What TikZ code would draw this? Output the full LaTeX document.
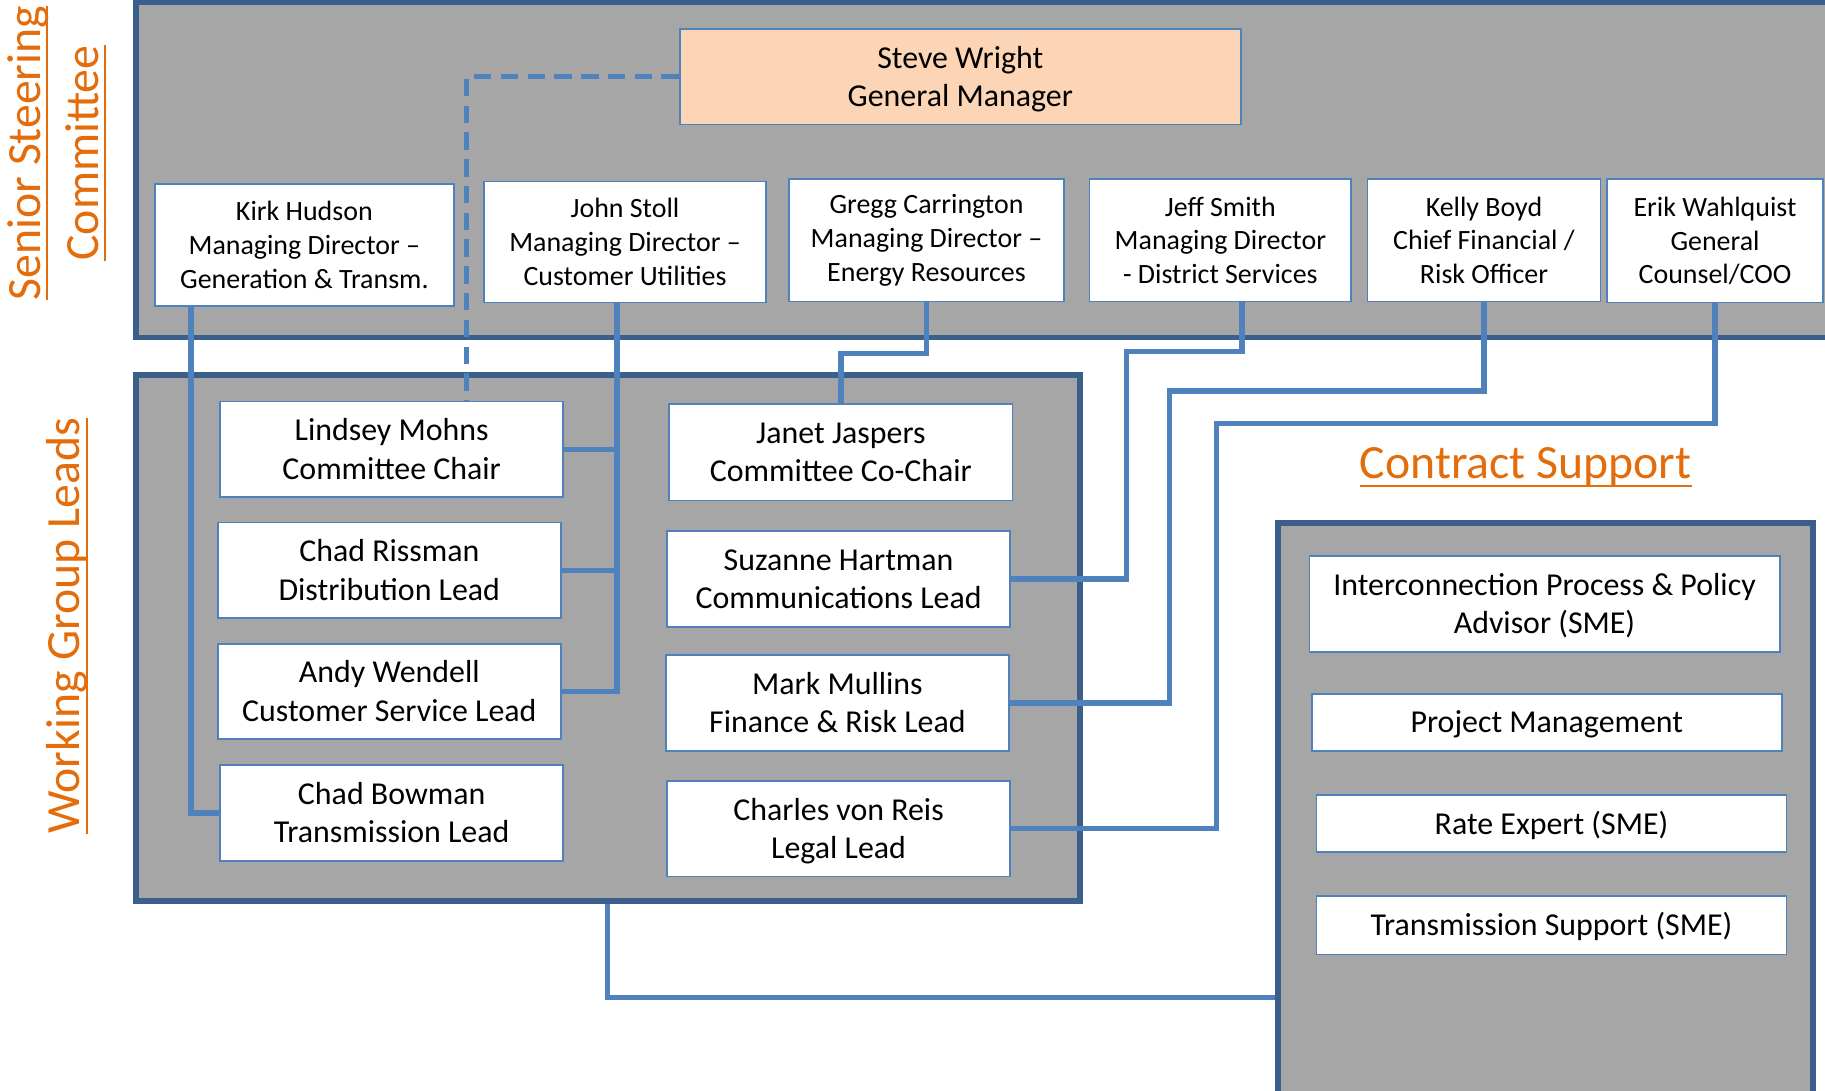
\documentclass[tikz,border=0pt]{standalone}
\usepackage{fontspec}
\setmainfont{Carlito}
\definecolor{grpfill}{HTML}{A6A6A6}
\definecolor{grpedge}{HTML}{3A5F8B}
\definecolor{conn}{HTML}{4F81BD}
\definecolor{orng}{HTML}{E46C0A}
\definecolor{peach}{HTML}{FBD5B5}
\newcommand{\btext}[1]{\raisebox{-2.5pt}[\height][\depth]{\begin{tabular}{@{}c@{}}#1\end{tabular}}}
\tikzset{
  grp/.style={draw=grpedge, fill=grpfill, line width=5pt, inner sep=0pt, rectangle},
  wbox/.style={draw=conn, fill=white, line width=1.5pt, inner sep=0pt, align=center, rectangle,
    font=\fontsize{27.4}{33}\selectfont},
  dbox/.style={wbox, font=\fontsize{24}{29}\selectfont},
  link/.style={draw=conn, line width=4.5pt},
  lbl/.style={text=orng, font=\fontsize{41}{50}\selectfont, inner sep=0pt},
  ul/.style={draw=orng, line width=2pt},
}
\begin{document}
\begin{tikzpicture}[x=1pt, y=-1pt]
\useasboundingbox (0,0) rectangle (1568,937);
\clip (0,0) rectangle (1568,937);
\fill[white] (0,0) rectangle (1568,937);

% group boxes
\node[grp, minimum width=1483pt, minimum height=288pt] (senior) at (858.5,146) {};
\node[grp, minimum width=811pt, minimum height=452pt] (wg) at (522.5,548) {};
\node[grp, minimum width=460pt, minimum height=551pt] (cbox) at (1328,724.5) {};

% coordinates for bends
\coordinate (kx) at (164,0);
\coordinate (jx) at (530,0);
\coordinate (jf1) at (1067,302);
\coordinate (jf2) at (968,302);
\coordinate (k1) at (1005,336);
\coordinate (e1) at (1045,364);
\coordinate (w1) at (522,857);
\coordinate (d1) at (401,66);

% boxes
\node[wbox, fill=peach, minimum width=482pt, minimum height=82pt] (steve) at (825,66) {\btext{Steve Wright\\General Manager}};
\node[dbox, minimum width=257pt, minimum height=105pt] (kirk) at (261.5,210.5) {Kirk Hudson\\Managing Director –\\Generation \& Transm.};
\node[dbox, minimum width=242pt, minimum height=104pt] (john) at (537,208) {John Stoll\\Managing Director –\\Customer Utilities};
\node[dbox, minimum width=236pt, minimum height=105pt] (gregg) at (796,206.5) {Gregg Carrington\\Managing Director –\\Energy Resources};
\node[dbox, minimum width=225pt, minimum height=105pt] (jeff) at (1048.5,206.5) {Jeff Smith\\Managing Director\\- District Services};
\node[dbox, minimum width=200pt, minimum height=105pt] (kelly) at (1275,206.5) {Kelly Boyd\\Chief Financial /\\Risk Officer};
\node[dbox, minimum width=185pt, minimum height=106pt] (erik) at (1473.5,207) {Erik Wahlquist\\General\\Counsel/COO};

\node[wbox, minimum width=295pt, minimum height=82pt] (lindsey) at (336.5,386) {\btext{Lindsey Mohns\\Committee Chair}};
\node[wbox, minimum width=295pt, minimum height=82pt] (rissman) at (334.5,490) {\btext{Chad Rissman\\Distribution Lead}};
\node[wbox, minimum width=295pt, minimum height=82pt] (andy) at (334.5,594) {\btext{Andy Wendell\\Customer Service Lead}};
\node[wbox, minimum width=295pt, minimum height=83pt] (bowman) at (336.5,698.5) {\btext{Chad Bowman\\Transmission Lead}};
\node[wbox, minimum width=295pt, minimum height=83pt] (janet) at (722.5,388.5) {\btext{Janet Jaspers\\Committee Co-Chair}};
\node[wbox, minimum width=295pt, minimum height=83pt] (suzanne) at (720.5,497.5) {\btext{Suzanne Hartman\\Communications Lead}};
\node[wbox, minimum width=295pt, minimum height=82pt] (mark) at (719.5,604) {\btext{Mark Mullins\\Finance \& Risk Lead}};
\node[wbox, minimum width=295pt, minimum height=82pt] (charles) at (720.5,712) {\btext{Charles von Reis\\Legal Lead}};

\node[wbox, minimum width=404pt, minimum height=82pt] (inter) at (1327,519) {\btext{Interconnection Process \& Policy\\Advisor (SME)}};
\node[wbox, minimum width=404pt, minimum height=49pt] (pm) at (1329,620.5) {\btext{Project Management}};
\node[wbox, minimum width=404pt, minimum height=49pt] (rate) at (1333,707.5) {\btext{Rate Expert (SME)}};
\node[wbox, minimum width=404pt, minimum height=50pt] (tsup) at (1333,795) {\btext{Transmission Support (SME)}};

% connectors
\draw[link] (kirk.south -| kx) |- (bowman.west);
\draw[link, line width=5.5pt] (john.south -| jx) -- (jx |- andy.east);
\draw[link] ([xshift=2.75pt]jx |- andy.east) -- (andy.east);
\draw[link] (lindsey.east) -- (lindsey.east -| jx);
\draw[link] (rissman.east) -- (rissman.east -| jx);
\draw[link] (gregg.south) -- ++(0,44) -| (janet.north);
\draw[link] (jeff.south -| jf1) -- (jf1) -- (jf2) |- (suzanne.east);
\draw[link] (kelly.south) |- (k1) |- (mark.east);
\draw[link] (erik.south) |- (e1) |- (charles.east);
\draw[link] (wg.south -| w1) |- (cbox.west |- w1);
\draw[link, line width=4pt, dash pattern=on 15pt off 8pt] (steve.west) -- (d1) -- (lindsey.north -| d1);

% labels
\node[lbl, rotate=90, anchor=base] (ss1) at (34.4,131.5) {Senior Steering};
\node[lbl, rotate=90, anchor=base] (ss2) at (84.2,131.5) {Committee};
\node[lbl, rotate=90, anchor=base] (wgl) at (68.7,537.7) {Working Group Leads};
\node[lbl, anchor=base] (csl) at (1310.8,410.7) {Contract Support};
\draw[ul] ([xshift=5.7pt]ss1.base west) -- ([xshift=5.7pt]ss1.base east);
\draw[ul] ([xshift=6pt]ss2.base west) -- ([xshift=6pt]ss2.base east);
\draw[ul] ([xshift=6.3pt]wgl.base west) -- ([xshift=6.3pt]wgl.base east);
\draw[ul] ([yshift=-6.8pt]csl.base west) -- ([yshift=-6.8pt]csl.base east);
\end{tikzpicture}
\end{document}
